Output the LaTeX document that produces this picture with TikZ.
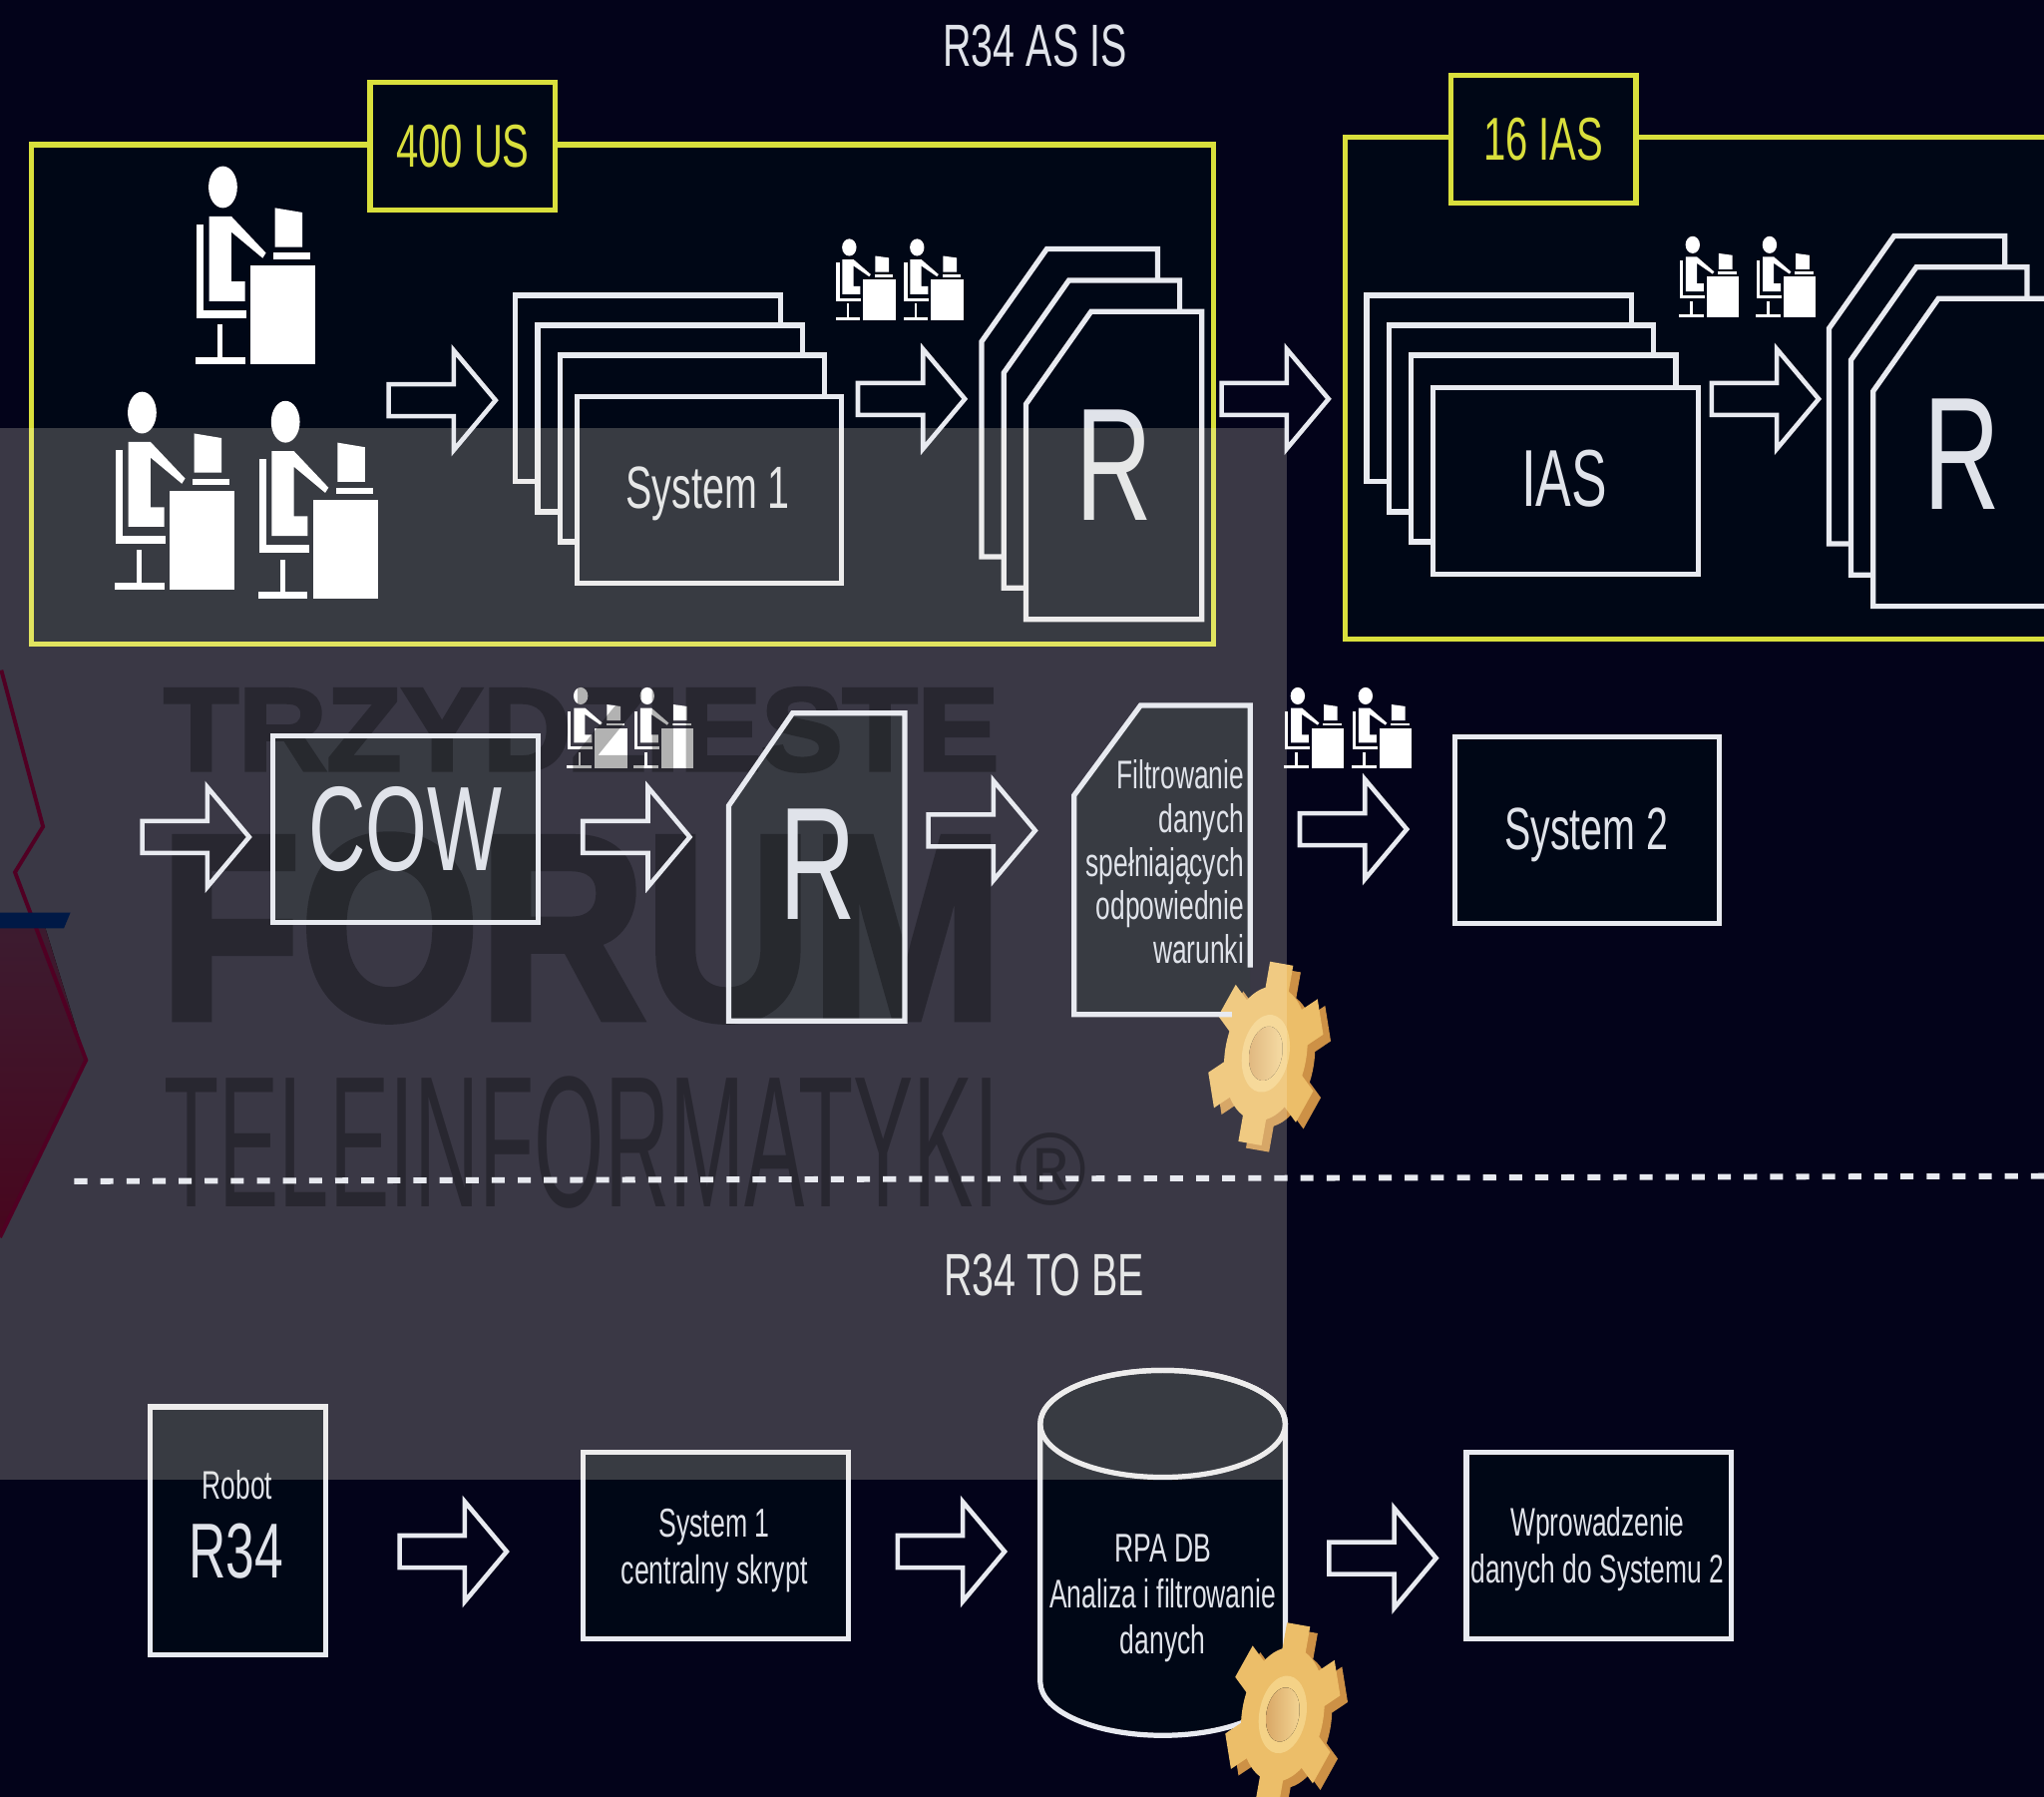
\documentclass[tikz,border=0pt]{standalone}
\usepackage{fontspec}
\setmainfont[FakeStretch=0.66]{Liberation Sans}
\newfontfamily\markfont[BoldFeatures={FakeBold=3}]{Liberation Sans}
\usetikzlibrary{shapes.arrows}

\definecolor{bgdark}{RGB}{3,3,26}
\definecolor{panel}{RGB}{0,7,22}
\definecolor{lineclr}{RGB}{232,234,240}
\definecolor{textclr}{RGB}{224,227,234}
\definecolor{yellowclr}{RGB}{217,223,60}
\definecolor{veil}{RGB}{255,246,223}
\definecolor{maroon}{RGB}{80,0,35}
\definecolor{redtop}{RGB}{60,28,48}
\definecolor{redbottom}{RGB}{72,6,30}
\definecolor{navybar}{RGB}{0,25,70}
\definecolor{gearface}{RGB}{236,190,105}
\definecolor{gearside}{RGB}{205,145,70}
\definecolor{gearrim}{RGB}{244,210,135}
\definecolor{holedark}{RGB}{215,165,100}
\definecolor{holelight}{RGB}{245,215,150}

\newcommand{\gearshape}[1]{
	\fill[#1] (0,0) circle [radius=52];
	\foreach \a in {30,90,...,330}
		\fill[#1,rotate=\a] (44,-15) rectangle (70,15);
}

\tikzset{
	frame/.style={draw=yellowclr,line width=.04cm,fill=panel},
	tag/.style={frame,minimum width=1.42cm,minimum height=.98cm,text=yellowclr,inner sep=0pt,font=\fontsize{13.2}{16}\selectfont},
	sheet/.style={draw=lineclr,line width=.04cm,fill=panel,minimum width=2.03cm,minimum height=1.43cm,inner sep=0pt,text=textclr},
	outline/.style={draw=lineclr,line width=.04cm},
	blockarrow/.style={single arrow,draw=lineclr,line width=.035cm,minimum height=.82cm,single arrow head extend=.26cm,single arrow tip angle=100,inner sep=0pt,inner ysep=.105cm,xshift=-.065cm},
	caption/.style={text=textclr,inner sep=0pt,align=center},
	smallworker/.style={xscale=.5,yscale=.41},
	watermark/.style={anchor=north west,inner sep=0pt,text=black},
	pics/worker/.style={code={
		\fill[white] (21,16.5) ellipse [x radius=11,y radius=16];
		\fill[white] (1,45) rectangle (6,115);
		\fill[white] (1,111) rectangle (39,117);
		\fill[white] (17,122) rectangle (21,148);
		\fill[white] (0,147) rectangle (38,152);
		\fill[white] (10.5,39)--(27.5,39)--(54,67)--(51.5,71)--(27.5,51)--(27.5,89)--(38,89)--(38,104)--(10.5,104)--cycle;
		\fill[white] (61,32.5)--(82,36)--(82,62.5)--(61,62.5)--cycle;
		\fill[white] (60,67) rectangle (88,72);
		\fill[white] (42,76.5) rectangle (92,152);
	}},
	pics/rpage/.style={code={
		\filldraw[outline,fill=panel] (0,71)--(50,0)--(135,0)--(135,236)--(0,236)--cycle;
	}},
	pics/gear/.style={code={
		\begin{scope}[rotate=-10,xscale=.6]
			\begin{scope}[shift={(11,4)}]
				\gearshape{gearside}
			\end{scope}
			\gearshape{gearface}
			\fill[gearrim] (0,0) circle [radius=30];
			\fill[left color=holedark,right color=holelight] (0,0) circle [radius=21];
		\end{scope}
	}}
}

\begin{document}
\begin{tikzpicture}[x=.01cm,y=-.01cm]
	\useasboundingbox (0,0) rectangle (1568,1378.2);
	\fill[bgdark] (0,0) rectangle (1568,1378.2);
	% upper frames
	\draw[frame] (24,111) rectangle (931,494);
	\draw[frame] (1032,105) rectangle (1600,490);
	\node[tag] (tagus) at (355,112) {400 US};
	\node[tag] (tagias) at (1184,107) {16 IAS};
	\node[caption,font=\fontsize{13}{15}\selectfont] (titleasis) at (794,35) {R34 AS IS};
	\node[caption,font=\fontsize{13}{15}\selectfont] (titletobe) at (801,978) {R34 TO BE};
	\pic at (150,127) {worker};
	\pic[smallworker] at (641,183) {worker};
	\pic[smallworker] at (693,183) {worker};
	\pic[smallworker] at (1288,181) {worker};
	\pic[smallworker] at (1347,181) {worker};
	% stacks of sheets
	\node[sheet] (sysa) at (497,298) {};
	\node[sheet] (sysb) at (514,321) {};
	\node[sheet] (sysc) at (531,344) {};
	\node[sheet] (sysd) at (544,376) {};
	\node[caption,font=\fontsize{13}{15}\selectfont] (syslabel) at (543,379) {System 1};
	\node[sheet] (iasa) at (1150,298) {};
	\node[sheet] (iasb) at (1167,321) {};
	\node[sheet] (iasc) at (1184,344) {};
	\node[sheet] (iasd) at (1201,369) {};
	\node[caption,font=\fontsize{17.6}{19}\selectfont] (iaslabel) at (1200,367) {IAS};
	\pic at (753,191) {rpage};
	\pic at (770,215) {rpage};
	\pic at (787,239) {rpage};
	\node[caption,font=\fontsize{35}{37}\selectfont] (rone) at (855,357) {R};
	\pic at (1403,181) {rpage};
	\pic at (1420,205) {rpage};
	\pic at (1437,229) {rpage};
	\node[caption,font=\fontsize{35}{37}\selectfont] (rtwo) at (1505,348) {R};
	% panels of the middle row, their lines come after the watermark
	\fill[panel] (210,565) rectangle (412,708);
	\fill[panel] (559,618)--(608,547)--(694,547)--(694,783)--(559,783)--cycle;
	\fill[panel] (824,610)--(875,541)--(959,541)--(959,778)--(824,778)--cycle;
	\node[sheet] (systwo) at (1217.5,636.5) {};
	\node[caption,font=\fontsize{13}{15}\selectfont] (systwolabel) at (1217,640.5) {System 2};
	\pic at (971,808) {gear};
	% bottom row
	\node[sheet,minimum width=1.35cm,minimum height=1.9cm] (robot) at (182.5,1174) {};
	\node[caption,font=\fontsize{8.7}{10}\selectfont] (robotlabel) at (182,1139) {Robot};
	\node[caption,font=\fontsize{17}{19}\selectfont] (rthree) at (181,1190) {R34};
	\node[sheet] (central) at (549,1185.5) {};
	\node[caption,font=\fontsize{8.8}{10.2}\selectfont] (centrallabel) at (548,1189.5) {System 1\\centralny skrypt};
	\filldraw[outline,fill=panel] (798,1092)--(798,1290) arc [start angle=180,end angle=0,x radius=94,y radius=41]--(986,1092) arc [start angle=0,end angle=-180,x radius=94,y radius=41];
	\draw[outline] (892,1092) ellipse [x radius=94,y radius=41];
	\node[caption,font=\fontsize{8.75}{10}\selectfont] (rpadb) at (892,1225.5) {RPA DB\\Analiza i filtrowanie\\danych};
	\node[sheet] (entry) at (1226.5,1185.5) {};
	\node[caption,font=\fontsize{8.7}{10.2}\selectfont] (entrylabel) at (1225.5,1188.5) {Wprowadzenie\\danych do Systemu 2};
	\pic at (984,1315) {gear};
	% veil and what lies on it
	\fill[veil,opacity=.218] (0,328) rectangle (987,1135);
	\pic at (88,300) {worker};
	\pic at (198,307) {worker};
	\pic[smallworker] at (435,527) {worker};
	\pic[smallworker] at (486,527) {worker};
	\pic[smallworker] at (985,527) {worker};
	\pic[smallworker] at (1037,527) {worker};
	\fill[top color=redtop,bottom color=redbottom] (33,706)--(66,813)--(0,949)--(0,706)--cycle;
	\draw[maroon,line width=.03cm] (1,514)--(33,634)--(11.5,669)--(66,813)--(0,949);
	\fill[navybar] (0,700)--(54,700)--(49,712)--(0,712)--cycle;
	\begin{scope}[transparency group,opacity=.3]
		\node[watermark] (marktop) at (125,527) {\resizebox{6.4cm}{.63cm}{\markfont\bfseries TRZYDZIESTE}};
		\node[watermark] (markmid) at (122,640) {\resizebox{6.46cm}{1.4cm}{\markfont\bfseries FORUM}};
		\node[watermark] (marklow) at (125,825) {\resizebox{6.4cm}{1cm}{\markfont TELEINFORMATYKI}};
		\node[watermark] (markreg) at (778,868) {\resizebox{.55cm}{.55cm}{\markfont\textregistered}};
	\end{scope}
	% middle row
	\node[sheet,fill=none,font=\fontsize{26.2}{28}\selectfont] (cow) at (311,636) {COW};
	\draw[outline] (559,618)--(608,547)--(694,547)--(694,783)--(559,783)--cycle;
	\node[caption,font=\fontsize{35}{37}\selectfont] (rmid) at (627,663) {R};
	\draw[outline] (945,778)--(824,778)--(824,610)--(875,541)--(959,541)--(959,742);
	\node[caption,anchor=east,align=right,font=\fontsize{8.7}{9.5}\selectfont] (filter) at (955,661) {Filtrowanie\\danych\\spełniających\\odpowiednie\\warunki};
	% arrows
	\node[blockarrow] (arrowa) at (340.5,307) {};
	\node[blockarrow] (arrowb) at (700.5,306) {};
	\node[blockarrow] (arrowc) at (979.5,306) {};
	\node[blockarrow] (arrowd) at (1355.5,306) {};
	\node[blockarrow] (arrowe) at (151.5,642) {};
	\node[blockarrow] (arrowf) at (489.5,642) {};
	\node[blockarrow] (arrowg) at (754.5,637) {};
	\node[blockarrow] (arrowh) at (1039.5,636) {};
	\node[blockarrow] (arrowi) at (349,1190) {};
	\node[blockarrow] (arrowj) at (731,1190) {};
	\node[blockarrow] (arrowk) at (1062,1195) {};
	% separator
	\coordinate (sepleft) at (57,906);
	\coordinate (sepright) at (1568,902);
	\draw[lineclr,line width=.045cm,dash pattern=on .1cm off .1cm] (sepleft)--(sepright);
\end{tikzpicture}
\end{document}
